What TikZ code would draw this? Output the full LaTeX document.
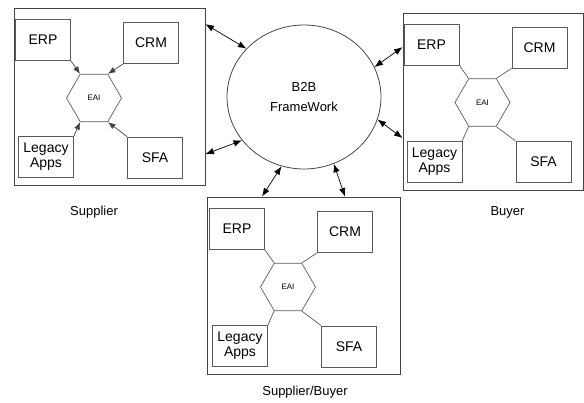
\documentclass[tikz,border=0pt]{standalone}
\usepackage{fontspec}
\setmainfont{Liberation Sans}
\usepackage{tikz}
\usetikzlibrary{shapes.geometric,arrows.meta,positioning}
\definecolor{bline}{HTML}{444444}
\definecolor{bgray}{HTML}{5A5A5A}

\begin{document}
\begin{tikzpicture}[x=1pt,y=1pt,
  node distance=10pt, on grid,
  party/.style={rectangle,draw=bline,line width=0.9pt,minimum height=177pt,inner sep=0pt},
  app/.style={rectangle,draw=bgray,line width=0.8pt,minimum width=55pt,minimum height=41pt,
    inner sep=0pt,align=center,font=\fontsize{14}{15}\selectfont},
  eai/.style={regular polygon,regular polygon sides=6,draw=bgray,line width=0.7pt,
    minimum size=55pt,inner sep=0pt,font=\fontsize{8}{9}\selectfont},
  fw/.style={ellipse,draw=bline,line width=0.8pt,minimum width=154pt,minimum height=144pt,
    inner sep=0pt,align=center,font=\fontsize{13}{20}\selectfont},
  lbl/.style={font=\fontsize{13}{15}\selectfont},
  feed/.style={bline,line width=0.7pt,-{Latex[length=7.5pt,width=6pt]}},
  link/.style={bgray,line width=0.7pt},
  conn/.style={black,line width=0.7pt,{Latex[length=8.5pt,width=6.5pt]}-{Latex[length=8.5pt,width=6.5pt]}}]
  \useasboundingbox (0,0) rectangle (584,403);

  % B2B hub
  \node[fw] (fw) at (304,306) {B2B\\FrameWork};

  % Supplier
  \node[eai] (eaiS) at (94,305) {EAI};
  \node[app,above left=58pt and 51pt of eaiS] (erpS) {ERP};
  \node[app,above right=55pt and 57pt of eaiS] (crmS) {CRM};
  \node[app,below left=59pt and 48pt of eaiS] (legS) {Legacy\\Apps};
  \node[app,below right=59.5pt and 61pt of eaiS] (sfaS) {SFA};
  \node[party,minimum width=191pt,above right=1.5pt and 15.5pt of eaiS] (sup) {};
  \node[lbl] (supL) at (94,191) {Supplier};
  \draw[feed] (erpS.south east) -- (eaiS.120);
  \draw[feed] (crmS.south west) -- (eaiS.60);
  \draw[feed] (legS.north east) -- (eaiS.240);
  \draw[feed] (sfaS.north west) -- (eaiS.300);

  % Buyer
  \node[eai] (eaiB) at (482.5,300.5) {EAI};
  \node[app,above left=58pt and 51pt of eaiB] (erpB) {ERP};
  \node[app,above right=55pt and 57pt of eaiB] (crmB) {CRM};
  \node[app,below left=59pt and 48pt of eaiB] (legB) {Legacy\\Apps};
  \node[app,below right=59.5pt and 61pt of eaiB] (sfaB) {SFA};
  \node[party,minimum width=180pt,above right=1pt and 10.5pt of eaiB] (buy) {};
  \node[lbl] (buyL) at (507.5,191) {Buyer};
  \draw[link] (erpB.south east) -- (eaiB.120);
  \draw[link] (crmB.south west) -- (eaiB.60);
  \draw[link] (legB.north east) -- (eaiB.240);
  \draw[link] (sfaB.north west) -- (eaiB.300);

  % Supplier/Buyer
  \node[eai] (eaiSB) at (288,116) {EAI};
  \node[app,above left=58pt and 51pt of eaiSB] (erpSB) {ERP};
  \node[app,above right=55pt and 57pt of eaiSB] (crmSB) {CRM};
  \node[app,below left=59pt and 48pt of eaiSB] (legSB) {Legacy\\Apps};
  \node[app,below right=59.5pt and 61pt of eaiSB] (sfaSB) {SFA};
  \node[party,minimum width=193pt,above right=1.5pt and 15.5pt of eaiSB] (sb) {};
  \node[lbl] (sbL) at (305,11) {Supplier/Buyer};
  \draw[link] (erpSB.south east) -- (eaiSB.120);
  \draw[link] (crmSB.south west) -- (eaiSB.60);
  \draw[link] (legSB.north east) -- (eaiSB.240);
  \draw[link] (sfaSB.north west) -- (eaiSB.300);

  % hub links
  \draw[conn] (fw.140) -- (sup.37);
  \draw[conn] (fw.215) -- (sup.-31);
  \draw[conn] (fw.23) -- (buy.149);
  \draw[conn] (fw.343) -- (buy.202);
  \draw[conn] (fw.252) -- (sb.115);
  \draw[conn] (fw.294) -- (sb.65);
\end{tikzpicture}
\end{document}
